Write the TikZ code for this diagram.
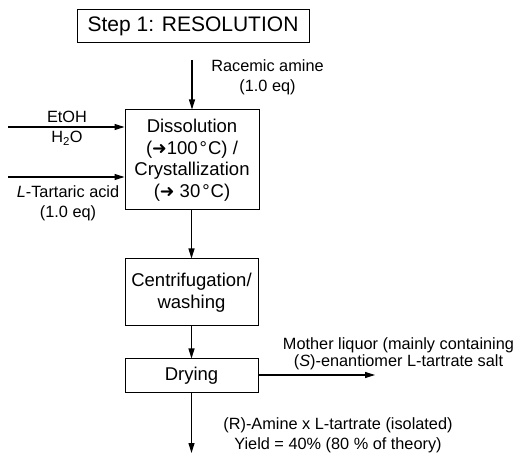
\documentclass[tikz,border=0pt]{standalone}
\usepackage{fontspec}
\setmainfont{Liberation Sans}
\newfontfamily\djv{DejaVu Sans}
\newcommand{\harr}{{\djv\fontsize{17.5}{17.5}\selectfont ➜}}
\usetikzlibrary{arrows.meta}
\tikzset{
  box/.style={draw, line width=1pt, minimum width=133pt, align=center, inner sep=0pt,
    font=\fontsize{18.5}{21.5}\selectfont},
  lbl/.style={align=center, inner sep=0pt, font=\fontsize{16.3}{20}\selectfont},
  flow/.style={line width=1.1pt, -{Triangle[length=10pt,width=6pt]}},
}
\begin{document}
\begin{tikzpicture}[x=1pt,y=-1pt]
\useasboundingbox (0,0) rectangle (517,454);
% title
\node[draw, line width=1pt, minimum width=232pt, minimum height=33pt, inner sep=0pt,
  font=\fontsize{21}{24}\selectfont] (title) at (193,26.5) {Step 1: RESOLUTION};
% boxes
\node[box, minimum width=134pt, minimum height=100pt] (diss) at (192,160)
  {Dissolution\\(\harr100\kern2pt°\kern1pt C) /\\Crystallization\\(\harr\ 30\kern2pt°\kern1pt C)};
\node[box, minimum height=67pt] (cent) at (191.5,292.5) {Centrifugation/\\washing};
\node[box, minimum height=34pt] (dry) at (191.5,376) {Drying};
% coordinates
\coordinate (rin) at (192,60);
\coordinate (ein) at (8,127);
\coordinate (tin) at (8,177);
\coordinate (mout) at (375,375);
\coordinate (pout) at (191.5,453);
% connectors
\draw[flow] (rin) -- (rin |- diss.north);
\draw[flow] (ein) -- (ein -| diss.west);
\draw[flow] (tin) -- (tin -| diss.west);
\draw[flow] (diss.south -| cent.north) -- (cent.north);
\draw[flow] (cent.south) -- (dry.north);
\draw[flow] (mout -| dry.east) -- (mout);
\draw[flow] (dry.south) -- (pout);
% labels
\node[lbl] (lr) at (267.5,77.5) {Racemic amine\\(1.0 eq)};
\node[lbl] (le) at (67,128.5) {EtOH\\H\textsubscript{2}O};
\node[lbl] (lt) at (68,203) {\textit{L}-Tartaric acid\\(1.0 eq)};
\node[lbl, font=\fontsize{16.3}{17}\selectfont] (lm) at (398.5,354) {Mother liquor (mainly containing\\(\textit{S})-enantiomer L-tartrate salt};
\node[lbl] (lp) at (338,435.5) {(R)-Amine x L-tartrate (isolated)\\Yield = 40\% (80 \% of theory)};
\end{tikzpicture}
\end{document}
